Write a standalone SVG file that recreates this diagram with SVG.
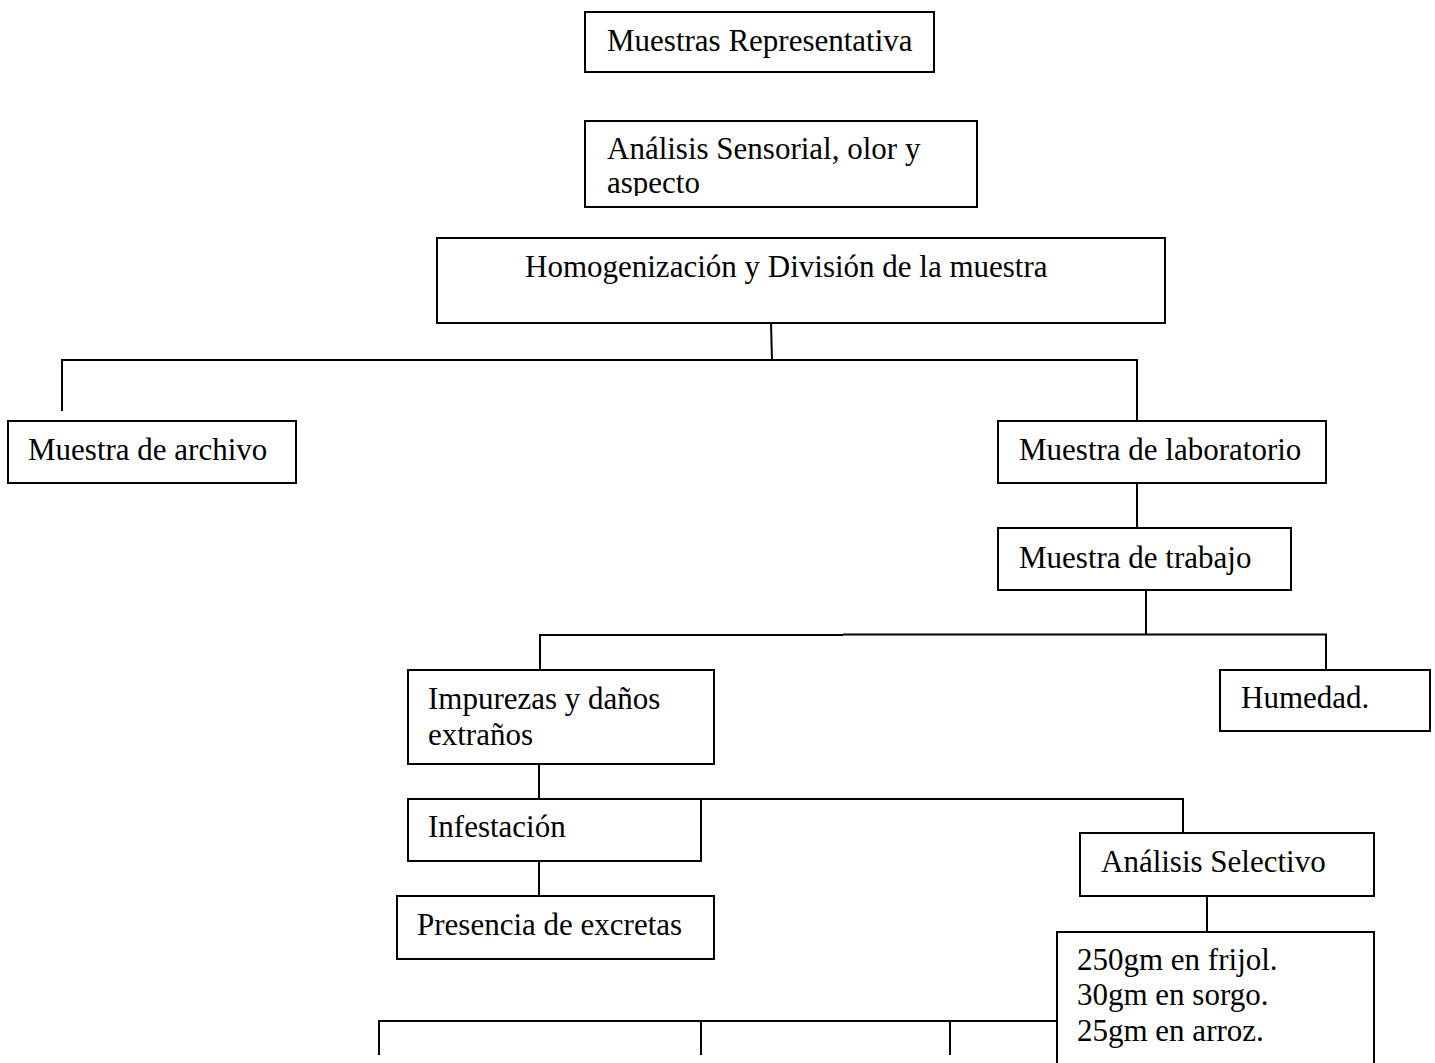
<svg xmlns="http://www.w3.org/2000/svg" width="1435" height="1063" viewBox="0 0 1435 1063">
<style>
.box{fill:#fff;stroke:#000;stroke-width:2}
.t{font-family:"Liberation Serif","Times New Roman",serif;font-size:31px;fill:#000}
.c line{stroke:#000;stroke-width:2}
</style>
<defs>
<clipPath id="clip2"><rect x="585" y="121" width="392" height="75"/></clipPath>
</defs>
<rect width="1435" height="1063" fill="#fff"/>
<g class="c" id="connectors">
<line x1="771" y1="323" x2="772" y2="360"/>
<line x1="61" y1="360" x2="1138" y2="360"/>
<line x1="62" y1="360" x2="62" y2="411"/>
<line x1="1137" y1="360" x2="1137" y2="421"/>
<line x1="1137" y1="483" x2="1137" y2="528"/>
<line x1="1146" y1="590" x2="1146" y2="635"/>
<line x1="539" y1="635" x2="843" y2="635"/>
<line x1="843" y1="634.5" x2="1327" y2="634.5"/>
<line x1="540" y1="635" x2="540" y2="670"/>
<line x1="1326" y1="634" x2="1326" y2="670"/>
<line x1="539" y1="764" x2="539" y2="799"/>
<line x1="539" y1="799" x2="1184" y2="799"/>
<line x1="1183" y1="799" x2="1183" y2="833"/>
<line x1="539" y1="861" x2="539" y2="896"/>
<line x1="1207" y1="896" x2="1207" y2="932"/>
<line x1="378" y1="1021" x2="1057" y2="1021"/>
<line x1="379" y1="1021" x2="379" y2="1055"/>
<line x1="701" y1="1021" x2="701" y2="1055"/>
<line x1="950" y1="1021" x2="950" y2="1055"/>
</g>
<g id="n1"><rect class="box" x="585" y="12" width="349" height="60"/><text class="t" x="607" y="51">Muestras Representativa</text></g>
<g id="n2"><rect class="box" x="585" y="121" width="392" height="86"/><g clip-path="url(#clip2)"><text class="t" x="607" y="159">Análisis Sensorial, olor y</text><text class="t" x="607" y="193">aspecto</text></g></g>
<g id="n3"><rect class="box" x="437" y="238" width="728" height="85"/><text class="t" x="525" y="277">Homogenización y División de la muestra</text></g>
<g id="n4"><rect class="box" x="8" y="421" width="288" height="62"/><text class="t" x="28" y="460">Muestra de archivo</text></g>
<g id="n5"><rect class="box" x="998" y="421" width="328" height="62"/><text class="t" x="1019" y="460">Muestra de laboratorio</text></g>
<g id="n6"><rect class="box" x="998" y="528" width="293" height="62"/><text class="t" x="1019" y="568">Muestra de trabajo</text></g>
<g id="n7"><rect class="box" x="1220" y="670" width="210" height="61"/><text class="t" x="1241" y="708">Humedad.</text></g>
<g id="n8"><rect class="box" x="408" y="670" width="306" height="94"/><text class="t" x="428" y="709">Impurezas y daños</text><text class="t" x="428" y="745">extraños</text></g>
<g id="n9"><rect class="box" x="408" y="799" width="293" height="62"/><text class="t" x="428" y="837">Infestación</text></g>
<g id="n10"><rect class="box" x="397" y="896" width="317" height="63"/><text class="t" x="417" y="935">Presencia de excretas</text></g>
<g id="n11"><rect class="box" x="1080" y="833" width="294" height="63"/><text class="t" x="1101" y="872">Análisis Selectivo</text></g>
<g id="n12"><rect class="box" x="1057" y="932" width="317" height="150"/><text class="t" x="1077" y="970">250gm en frijol.</text><text class="t" x="1077" y="1005">30gm en sorgo.</text><text class="t" x="1077" y="1041">25gm en arroz.</text></g>
</svg>
